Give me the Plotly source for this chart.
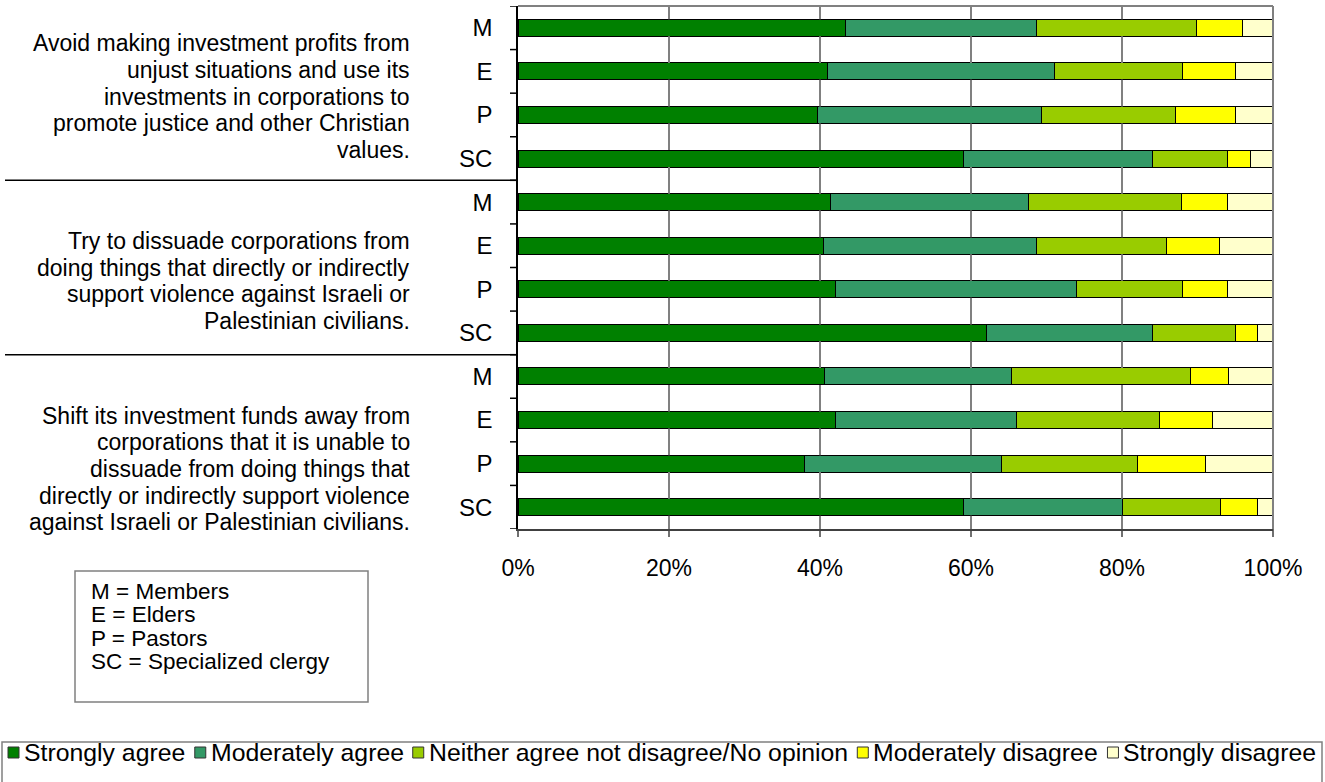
import plotly.graph_objects as go

# Survey groups (top to bottom within each statement block)
group_labels = ["M", "E", "P", "SC"] * 3

# Responses (percent of respondents) per row, top to bottom
strongly_agree = [43, 41, 40, 59, 41, 40, 42, 62, 41, 42, 38, 59]
moderately_agree = [25, 30, 30, 25, 26, 28, 32, 22, 25, 24, 26, 21]
neither = [21, 17, 18, 10, 20, 17, 14, 11, 24, 19, 18, 13]
moderately_disagree = [6, 7, 8, 3, 6, 7, 6, 3, 5, 7, 9, 5]
strongly_disagree = [4, 5, 5, 3, 6, 7, 6, 2, 6, 8, 9, 2]

series_names = [
    "Strongly agree",
    "Moderately agree",
    "Neither agree not disagree/No opinion",
    "Moderately disagree",
    "Strongly disagree",
]
series_values = [strongly_agree, moderately_agree, neither, moderately_disagree, strongly_disagree]
series_colors = ["#008000", "#339966", "#99CC00", "#FFFF00", "#FFFFCC"]

x_tick_vals = [0, 20, 40, 60, 80, 100]
x_tick_text = ["0%", "20%", "40%", "60%", "80%", "100%"]

statements = [
    ["Avoid making investment profits from",
     "unjust situations and use its",
     "investments in corporations to",
     "promote justice and other Christian",
     "values."],
    ["Try to dissuade corporations from",
     "doing things that directly or indirectly",
     "support violence against Israeli or",
     "Palestinian civilians."],
    ["Shift its investment funds away from",
     "corporations that it is unable to",
     "dissuade from doing things that",
     "directly or indirectly support violence",
     "against Israeli or Palestinian civilians."],
]

key_lines = ["M = Members", "E = Elders", "P = Pastors", "SC = Specialized clergy"]

FONT = "Liberation Sans, Arial, sans-serif"
W, H = 1325, 782
PL, PR, PT, PB = 518, 1273, 6, 529
BAR_W = 0.39
X_MAX = 100


def fx(x):
    """Pixel x -> paper x."""
    return (x - PL) / (PR - PL)


def fy(y):
    """Pixel y -> paper y."""
    return (PB - y) / (PB - PT)


rows = list(range(len(group_labels)))
y_lo, y_hi = -0.5, len(rows) - 0.5

fig = go.Figure()
for name, vals, col in zip(series_names, series_values, series_colors):
    fig.add_trace(go.Bar(
        y=rows, x=vals, name=name, orientation="h",
        width=BAR_W,
        marker=dict(color=col, line=dict(color="#000000", width=1)),
        showlegend=False,
    ))

shapes = []
annotations = []

# vertical gridlines in the white gaps between the bars
# (x axis spans 0..X_MAX over the full plot width, so paper x = value / X_MAX)
gap_starts = [y_lo] + [r + BAR_W / 2 for r in rows]
gap_ends = [r - BAR_W / 2 for r in rows] + [y_hi]
for v in x_tick_vals[1:-1]:
    for g0, g1 in zip(gap_starts, gap_ends):
        shapes.append(dict(type="line", xref="paper", yref="y", x0=v / X_MAX, x1=v / X_MAX,
                           y0=g0, y1=g1, line=dict(color="#808080", width=2)))

# plot frame (top and right), drawn in grey
shapes.append(dict(type="line", xref="paper", yref="paper", x0=0, x1=1, y0=1, y1=1,
                   line=dict(color="#808080", width=2)))
shapes.append(dict(type="line", xref="paper", yref="paper", x0=1, x1=1, y0=0, y1=1,
                   line=dict(color="#808080", width=2)))

# tick marks below the percent axis
for v in x_tick_vals:
    shapes.append(dict(type="line", xref="paper", yref="paper", x0=v / X_MAX, x1=v / X_MAX,
                       y0=0, y1=fy(PB + 8), line=dict(color="#404040", width=1.5)))

# category boundary tick marks on the left axis
for r in rows + [len(rows)]:
    shapes.append(dict(type="line", xref="paper", yref="y", x0=fx(PL - 8), x1=0,
                       y0=r - 0.5, y1=r - 0.5, line=dict(color="#000000", width=1.5)))

# separators between statement blocks
for yb in [3.5, 7.5]:
    shapes.append(dict(type="line", xref="paper", yref="y", x0=fx(5), x1=0, y0=yb, y1=yb,
                       line=dict(color="#000000", width=1.5)))

# statement text, right aligned beside each block
block_line_y = [
    [43.3, 70, 96.7, 123.3, 150],
    [241, 267.7, 294.3, 321],
    [415.7, 442.3, 469, 495.7, 522.3],
]
for lines, ys in zip(statements, block_line_y):
    for txt, yy in zip(lines, ys):
        annotations.append(dict(text=txt, xref="paper", yref="paper", x=fx(412), y=fy(yy),
                                xanchor="right", yanchor="middle", showarrow=False,
                                font=dict(family=FONT, size=23, color="#000000")))

# abbreviation key box
shapes.append(dict(type="rect", xref="paper", yref="paper", x0=fx(75), x1=fx(368),
                   y0=fy(702), y1=fy(571), line=dict(color="#808080", width=1.5),
                   fillcolor="rgba(0,0,0,0)"))
for txt, yy in zip(key_lines, [591, 614.5, 638, 661.5]):
    annotations.append(dict(text=txt, xref="paper", yref="paper", x=fx(89), y=fy(yy),
                            xanchor="left", yanchor="middle", showarrow=False,
                            font=dict(family=FONT, size=22.5, color="#000000")))

# response legend along the bottom
LEG_FONT = 24.8
# approximate advance widths (em) of each label in Arial/Liberation Sans
label_em = [6.503, 7.761, 16.897, 9.059, 7.781]
shapes.append(dict(type="rect", xref="paper", yref="paper", x0=fx(2), x1=fx(1322),
                   y0=fy(800), y1=fy(742), line=dict(color="#808080", width=1.5),
                   fillcolor="rgba(0,0,0,0)"))
sx = 8.0
for name, col, em in zip(series_names, series_colors, label_em):
    shapes.append(dict(type="rect", xref="paper", yref="paper", x0=fx(sx), x1=fx(sx + 11),
                       y0=fy(758), y1=fy(747), fillcolor=col,
                       line=dict(color="#333333", width=1)))
    annotations.append(dict(text=name, xref="paper", yref="paper", x=fx(sx + 14), y=fy(752),
                            xanchor="left", yanchor="middle", showarrow=False,
                            font=dict(family=FONT, size=LEG_FONT, color="#000000")))
    sx += 14 + em * LEG_FONT + 11.5

fig.update_layout(
    width=W, height=H,
    margin=dict(l=PL, r=W - PR, t=PT, b=H - PB, pad=0),
    barmode="stack", barnorm="percent",
    plot_bgcolor="#FFFFFF", paper_bgcolor="#FFFFFF",
    font=dict(family=FONT, color="#000000"),
    shapes=shapes, annotations=annotations,
    xaxis=dict(
        range=[0, X_MAX], fixedrange=True,
        tickmode="array", tickvals=x_tick_vals, ticktext=x_tick_text,
        showgrid=True, gridcolor="#808080", gridwidth=2,
        showline=True, linecolor="#404040", linewidth=1.5,
        ticks="outside", ticklen=18, tickwidth=1, tickcolor="rgba(0,0,0,0)",
        tickfont=dict(family=FONT, size=23, color="#000000"),
        zeroline=False,
    ),
    yaxis=dict(
        range=[y_hi, y_lo], fixedrange=True,
        tickmode="array", tickvals=rows, ticktext=group_labels,
        showgrid=False, zeroline=False,
        showline=True, linecolor="#000000", linewidth=1.5,
        ticks="outside", ticklen=19, tickcolor="rgba(0,0,0,0)",
        tickfont=dict(family=FONT, size=24, color="#000000"),
    ),
)

fig.write_html("out.html")
